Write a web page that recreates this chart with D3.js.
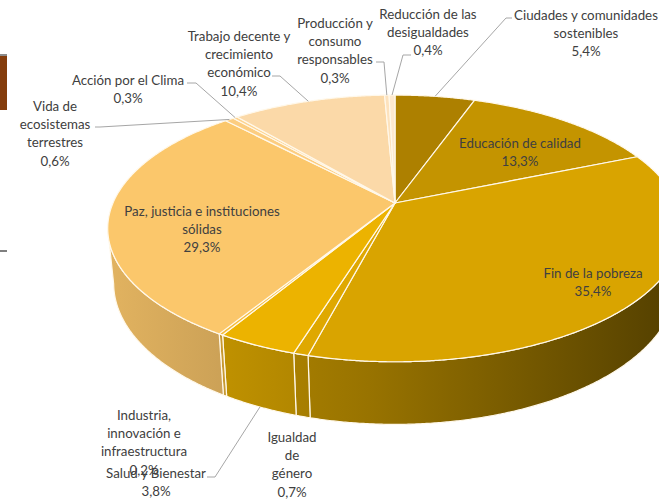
<!DOCTYPE html>
<html>
<head>
<meta charset="utf-8">
<script src="https://cdn.jsdelivr.net/npm/d3@7"></script>
<style>
  body { margin: 0; background: #fff; }
  svg { display: block; }
  .lbl { font-family: Lato, "Open Sans", sans-serif; font-size: 13.3px; fill: #404040; }
</style>
</head>
<body>
<div id="chart"></div>
<script>
// ---- data ----
const categories = [
  'Ciudades y comunidades sostenibles', 'Educación de calidad', 'Fin de la pobreza',
  'Igualdad de género', 'Salud y Bienestar', 'Industria, innovación e infraestructura',
  'Paz, justicia e instituciones sólidas', 'Vida de ecosistemas terrestres',
  'Acción por el Clima', 'Trabajo decente y crecimiento económico',
  'Producción y consumo responsables', 'Reducción de las desigualdades'
];
const values = [5.4, 13.3, 35.4, 0.7, 3.8, 0.2, 29.3, 0.6, 0.3, 10.4, 0.3, 0.4];
const valueLabels = ['5,4%', '13,3%', '35,4%', '0,7%', '3,8%', '0,2%', '29,3%', '0,6%', '0,3%', '10,4%', '0,3%', '0,4%'];
const labelLines = [
  ['Ciudades y comunidades', 'sostenibles'],
  ['Educación de calidad'],
  ['Fin de la pobreza'],
  ['Igualdad', 'de', 'género'],
  ['Salud y Bienestar'],
  ['Industria,', 'innovación e', 'infraestructura'],
  ['Paz, justicia e instituciones', 'sólidas'],
  ['Vida de', 'ecosistemas', 'terrestres'],
  ['Acción por el Clima'],
  ['Trabajo decente y', 'crecimiento', 'económico'],
  ['Producción y', 'consumo', 'responsables'],
  ['Reducción de las', 'desigualdades']
];
const colors = ['#ad8000', '#c49400', '#d9a400', '#dfa800', '#ecb300', '#f5bd3c',
  '#fbc76b', '#fccd80', '#fdd390', '#fbd9a8', '#fde2bd', '#fde9cf'];

// label layout: [x centre, first baseline], leader: [label end, elbow] or null
const labelPos = [[586, 20], [520, 148], [593, 278], [292, 442], [156, 478], [144, 420],
  [202, 216], [55, 111], [128, 85], [239, 41], [335, 28], [428, 19]];
const leaders = [[[512, 18], [506, 18]], null, null, null, [[207, 477], [215, 477]], null,
  null, [[95, 127], [100, 127]], [[187, 83], [196, 83]], [[272, 76], [280, 76]],
  [[376, 62], [384, 62]], [[411, 55], [403, 55]]];

// ---- 3d pie geometry ----
const W = 659, H = 499;
const cx = 395, cy = 203;          // apex of the top face
const Fx = 282, Fy = 288;          // radius in px at mid depth
const persp = 0.213;               // R / camera distance
const tilt = 26.5 * Math.PI / 180;
const sT = Math.sin(tilt), cT = Math.cos(tilt);
const depthH = 0.214;              // thickness / radius

function project(theta, level) {
  const x = Math.sin(theta), z = -Math.cos(theta), y = -depthH * level;
  const d = 1 - persp * (y * sT + z * cT);
  const up = y * cT - z * sT;
  return [cx + Fx * x / d, cy - Fy * up / d];
}

function arcPts(a0, a1, level) {
  const n = Math.max(2, Math.ceil((a1 - a0) / 0.006));
  return d3.range(n + 1).map(i => project(a0 + (a1 - a0) * i / n, level));
}

const arcs = d3.pie().sort(null).value(d => d)(values);

const svg = d3.select('#chart').append('svg')
  .attr('width', W).attr('height', H);

// bits of the neighbouring slide at the left edge
svg.append('rect').attr('x', 0).attr('y', 55).attr('width', 7).attr('height', 55).attr('fill', '#843c0c');
svg.append('rect').attr('x', 0).attr('y', 54).attr('width', 7).attr('height', 2).attr('fill', '#8c8c8c');
svg.append('rect').attr('x', 0).attr('y', 250).attr('width', 7).attr('height', 2).attr('fill', '#7f7f7f');

const defs = svg.append('defs');
arcs.forEach((d, i) => {
  const base = d3.rgb(colors[i]);
  const g = defs.append('linearGradient').attr('id', 'side' + i)
    .attr('gradientUnits', 'userSpaceOnUse')
    .attr('x1', 107).attr('x2', 690).attr('y1', 0).attr('y2', 0);
  const sh = f => d3.rgb(base.r * f, base.g * f, base.b * f);
  g.append('stop').attr('offset', 0).attr('stop-color', sh(0.9));
  g.append('stop').attr('offset', 0.45).attr('stop-color', sh(0.7));
  g.append('stop').attr('offset', 1).attr('stop-color', sh(0.37));
});

// visible band of the side wall
const lim = Math.acos(-persp * cT);
const visA = lim, visB = 2 * Math.PI - lim;

const line = d3.line();
const sideG = svg.append('g');
arcs.forEach((d, i) => {
  const a0 = Math.max(d.startAngle, visA), a1 = Math.min(d.endAngle, visB);
  if (a1 <= a0) return;
  const pts = arcPts(a0, a1, 0).concat(arcPts(a0, a1, 1).reverse());
  sideG.append('path')
    .attr('d', line(pts) + 'Z')
    .attr('fill', `url(#side${i})`)
    .attr('stroke', '#fff8ea').attr('stroke-width', 1.2).attr('stroke-linejoin', 'round');
});

const faceG = svg.append('g');
arcs.forEach((d, i) => {
  const pts = [[cx, cy]].concat(arcPts(d.startAngle, d.endAngle, 0));
  faceG.append('path')
    .attr('d', line(pts) + 'Z')
    .attr('fill', colors[i])
    .attr('stroke', '#fff8ea').attr('stroke-width', 1.2).attr('stroke-linejoin', 'round');
});

// leader lines
arcs.forEach((d, i) => {
  if (!leaders[i]) return;
  const mid = (d.startAngle + d.endAngle) / 2;
  const front = Math.cos(mid) < 0;
  const end = project(mid, front ? 1 : 0);
  svg.append('path')
    .attr('d', line([leaders[i][0], leaders[i][1], end]))
    .attr('fill', 'none').attr('stroke', '#a6a6a6').attr('stroke-width', 1);
});

// labels
arcs.forEach((d, i) => {
  const t = svg.append('text').attr('class', 'lbl')
    .attr('text-anchor', 'middle')
    .attr('x', labelPos[i][0]).attr('y', labelPos[i][1]);
  labelLines[i].concat([valueLabels[i]]).forEach((s, k) => {
    t.append('tspan').attr('x', labelPos[i][0]).attr('dy', k === 0 ? 0 : 18.2).text(s);
  });
});
</script>
</body>
</html>
